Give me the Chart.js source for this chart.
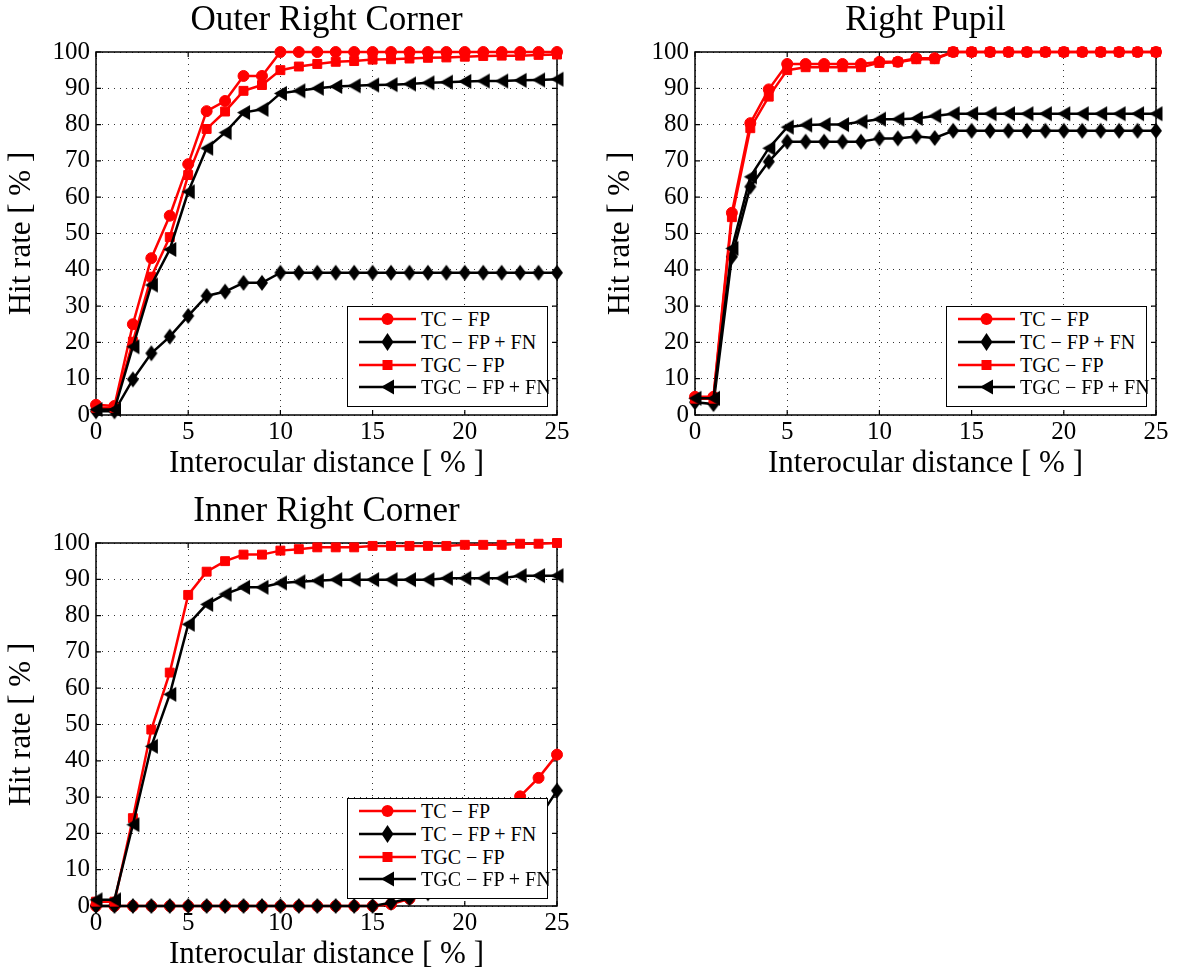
<!DOCTYPE html>
<html>
<head>
<meta charset="utf-8">
<script src="https://cdn.jsdelivr.net/npm/chart.js@4/dist/chart.umd.min.js"></script>
<style>
  html, body { margin: 0; padding: 0; background: #fff; }
  body { width: 1178px; height: 978px; position: relative; overflow: hidden; }
  .wrap { position: absolute; width: 590px; height: 490px; }
  .legend { position: absolute; width: 199px; height: 98px; border: 1px solid #000; background: #fff;
            font-family: 'Liberation Serif', serif; font-size: 20px; color: #000; box-sizing: content-box;
            padding-top: 1px; overflow: visible; white-space: nowrap; }
  .row { display: flex; align-items: center; height: 22.7px; }
  .row svg { flex: none; }
  .row span { margin-left: 5px; line-height: 22px; }
</style>
</head>
<body>
<div class="wrap" style="left:0;top:0"><canvas id="c1" width="590" height="490"></canvas></div>
<div class="wrap" style="left:599px;top:0"><canvas id="c2" width="590" height="490"></canvas></div>
<div class="wrap" style="left:0;top:491px"><canvas id="c3" width="590" height="490"></canvas></div>
<div class="legend" id="l1" style="left:347px;top:306px"></div>
<div class="legend" id="l2" style="left:946px;top:306px"></div>
<div class="legend" id="l3" style="left:347px;top:798px"></div>
<script>
// ---------- data ----------
const xValues = [0,1,2,3,4,5,6,7,8,9,10,11,12,13,14,15,16,17,18,19,20,21,22,23,24,25];
const seriesLabels = ['TC \u2212 FP', 'TC \u2212 FP + FN', 'TGC \u2212 FP', 'TGC \u2212 FP + FN'];
const chartTitles = ['Outer Right Corner', 'Right Pupil', 'Inner Right Corner'];
const xAxisLabel = 'Interocular distance [ % ]';
const yAxisLabel = 'Hit rate [ % ]';
const xTicks = [0,5,10,15,20,25];
const yTicks = [0,10,20,30,40,50,60,70,80,90,100];

// Outer Right Corner
const outerTC     = [2.8,2.5,25,43.2,54.9,69.1,83.7,86.5,93.4,93.4,100,100,100,100,100,100,100,100,100,100,100,100,100,100,100,100];
const outerTCFN   = [1,1,9.8,17,21.6,27.3,32.8,34,36.4,36.4,39.2,39.2,39.2,39.2,39.2,39.2,39.2,39.2,39.2,39.2,39.2,39.2,39.2,39.2,39.2,39.2];
const outerTGC    = [2,2,20.2,38.1,49,66.1,78.8,83.6,89.3,90.9,95,96,96.7,97.3,97.5,97.9,98,98.2,98.4,98.5,98.7,98.9,99,99,99.2,99.3];
const outerTGCFN  = [1.5,1.5,18.8,35.8,45.6,61.5,73.5,77.8,83.3,84.2,88.6,89.3,90,90.5,90.7,90.9,91,91.2,91.5,91.7,91.9,92,92,92.2,92.3,92.5];

// Right Pupil
const pupilTC     = [5,5,55.7,80.4,89.7,96.7,96.7,96.7,96.7,96.7,97.3,97.3,98.3,98.3,100,100,100,100,100,100,100,100,100,100,100,100];
const pupilTCFN   = [3.5,3,43.6,62.9,69.8,75.3,75.3,75.3,75.3,75.3,76.2,76.2,76.7,76.3,78.3,78.3,78.3,78.3,78.3,78.3,78.3,78.3,78.3,78.3,78.3,78.3];
const pupilTGC    = [4.5,4.5,54.5,79,87.7,95,95.8,95.8,95.8,95.8,97,97.2,98,98,100,100,100,100,100,100,100,100,100,100,100,100];
const pupilTGCFN  = [4.6,4.6,45.9,65.6,73.5,79.3,79.9,80,80,80.8,81.5,81.5,81.7,82.4,83,83,83,83,83,83,83,83,83,83,83,83];

// Inner Right Corner
const innerTC     = [0,0,0,0,0,0,0,0,0,0,0,0,0,0,0,0,0.5,2,4,7,11,16,23,30.2,35.3,41.7];
const innerTCFN   = [0,0,0,0,0,0,0,0,0,0,0,0,0,0,0,0,0.9,2.1,3.5,5,7,9,12,17,24,31.8];
const innerTGC    = [1.2,1.2,24.2,48.6,64.3,85.7,92.1,95,96.8,96.8,97.9,98.3,98.8,98.8,98.8,99.2,99.2,99.2,99.2,99.2,99.5,99.5,99.5,99.8,99.8,100];
const innerTGCFN  = [1.7,1.7,22.4,44,58.3,77.6,83.1,85.9,87.8,87.8,89,89.3,89.6,89.9,89.9,89.9,89.9,89.9,89.9,90.3,90.3,90.3,90.3,91,91,91];

// ---------- styles ----------
const RED = '#ff0000', BLACK = '#000000';
const FONT = "'Liberation Serif', serif";

function diamondMarker(color) {
  const c = document.createElement('canvas'); c.width = 14; c.height = 18;
  const g = c.getContext('2d'); g.fillStyle = color;
  g.beginPath(); g.moveTo(7, 1); g.lineTo(13, 9); g.lineTo(7, 17); g.lineTo(1, 9); g.closePath(); g.fill();
  return c;
}
function leftTriangleMarker(color) {
  const c = document.createElement('canvas'); c.width = 15; c.height = 17;
  const g = c.getContext('2d'); g.fillStyle = color;
  g.beginPath(); g.moveTo(1, 8.5); g.lineTo(14, 1); g.lineTo(14, 16); g.closePath(); g.fill();
  return c;
}
const diamondPt = diamondMarker(BLACK);
const trianglePt = leftTriangleMarker(BLACK);

const toXY = arr => arr.map((v, i) => ({x: xValues[i], y: v}));

const framePlugin = {
  id: 'frame',
  beforeDatasetsDraw(chart) {
    const {ctx, chartArea: a, scales} = chart;
    ctx.save();
    ctx.strokeStyle = '#000';
    ctx.lineWidth = 1.2;
    ctx.beginPath();
    xTicks.forEach(v => {
      const px = scales.x.getPixelForValue(v);
      ctx.moveTo(px, a.bottom); ctx.lineTo(px, a.bottom - 5);
      ctx.moveTo(px, a.top); ctx.lineTo(px, a.top + 5);
    });
    yTicks.forEach(v => {
      const py = scales.y.getPixelForValue(v);
      ctx.moveTo(a.left, py); ctx.lineTo(a.left + 5, py);
      ctx.moveTo(a.right, py); ctx.lineTo(a.right - 5, py);
    });
    ctx.stroke();
    ctx.lineWidth = 1.5;
    ctx.strokeRect(a.left, a.top, a.right - a.left, a.bottom - a.top);
    ctx.restore();
  }
};

function makeChart(id, title, tc, tcfn, tgc, tgcfn) {
  const common = {borderWidth: 2.5, tension: 0, clip: false, pointBorderWidth: 1, fill: false};
  new Chart(document.getElementById(id), {
    type: 'line',
    data: {
      datasets: [
        Object.assign({label: seriesLabels[0], data: toXY(tc), borderColor: RED, backgroundColor: RED,
          pointStyle: 'circle', pointRadius: 5.5, pointHoverRadius: 5.5, order: 3}, common),
        Object.assign({label: seriesLabels[1], data: toXY(tcfn), borderColor: BLACK, backgroundColor: BLACK,
          pointStyle: diamondPt, pointRadius: 7, pointHoverRadius: 7, order: 2}, common),
        Object.assign({label: seriesLabels[2], data: toXY(tgc), borderColor: RED, backgroundColor: RED,
          pointStyle: 'rect', pointRadius: 6.3, pointHoverRadius: 6.3, order: 1}, common),
        Object.assign({label: seriesLabels[3], data: toXY(tgcfn), borderColor: BLACK, backgroundColor: BLACK,
          pointStyle: trianglePt, pointRadius: 7, pointHoverRadius: 7, order: 0}, common)
      ]
    },
    options: {
      responsive: false, animation: false, devicePixelRatio: 1,
      events: [],
      layout: {padding: {left: 0, right: 33, top: 0, bottom: 0}},
      plugins: {
        legend: {display: false},
        tooltip: {enabled: false},
        title: {display: true, text: title, color: '#000', fullSize: false,
          font: {family: FONT, size: 35, weight: 'normal', lineHeight: 1},
          padding: {top: 3, bottom: 14}}
      },
      scales: {
        x: {
          type: 'linear', min: 0, max: 25,
          afterBuildTicks: s => { s.ticks = xTicks.map(v => ({value: v})); },
          afterFit: s => { s.height = 75; },
          ticks: {color: '#000', font: {family: FONT, size: 25}, padding: 2, maxRotation: 0, autoSkip: false},
          grid: {color: '#333', lineWidth: 1, drawTicks: false},
          border: {display: false, dash: [1, 5]},
          title: {display: true, text: xAxisLabel, color: '#000',
            font: {family: FONT, size: 31, lineHeight: 1}, padding: {top: 0, bottom: 11}}
        },
        y: {
          type: 'linear', min: 0, max: 100,
          afterBuildTicks: s => { s.ticks = yTicks.map(v => ({value: v})); },
          afterFit: s => { s.width = 96; },
          ticks: {color: '#000', font: {family: FONT, size: 25}, padding: 6, autoSkip: false},
          grid: {color: '#333', lineWidth: 1, drawTicks: false},
          border: {display: false, dash: [1, 5]},
          title: {display: true, text: yAxisLabel, color: '#000',
            font: {family: FONT, size: 31, lineHeight: 1}, padding: {top: 6, bottom: 0}}
        }
      }
    },
    plugins: [framePlugin]
  });
}

makeChart('c1', chartTitles[0], outerTC, outerTCFN, outerTGC, outerTGCFN);
makeChart('c2', chartTitles[1], pupilTC, pupilTCFN, pupilTGC, pupilTGCFN);
makeChart('c3', chartTitles[2], innerTC, innerTCFN, innerTGC, innerTGCFN);

// ---------- legends (HTML boxes) ----------
const legendMarkers = [
  `<circle cx="39.5" cy="11" r="6" fill="${RED}"/>`,
  `<polygon points="39.5,2 45.5,11 39.5,20 33.5,11" fill="${BLACK}"/>`,
  `<rect x="34.5" y="6" width="10" height="10" fill="${RED}"/>`,
  `<polygon points="33,11 46,3.5 46,18.5" fill="${BLACK}"/>`
];
const legendColors = [RED, BLACK, RED, BLACK];
function buildLegend(id) {
  const el = document.getElementById(id);
  el.innerHTML = seriesLabels.map((lab, i) =>
    `<div class="row"><svg width="68" height="22" viewBox="0 0 68 22">` +
    `<line x1="11" y1="11" x2="68" y2="11" stroke="${legendColors[i]}" stroke-width="2.5"/>` +
    legendMarkers[i] + `</svg><span>${lab}</span></div>`).join('');
}
['l1', 'l2', 'l3'].forEach(buildLegend);
</script>
</body>
</html>
